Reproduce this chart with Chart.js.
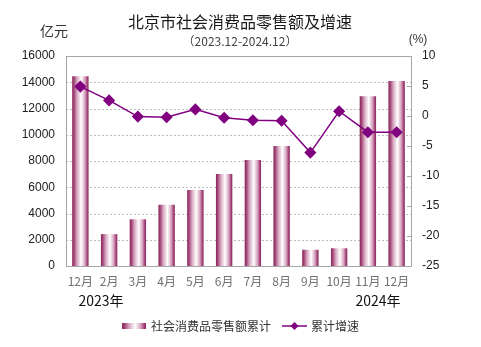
<!DOCTYPE html>
<html>
<head>
<meta charset="utf-8">
<script src="https://cdn.jsdelivr.net/npm/chart.js@4.4.1/dist/chart.umd.min.js"></script>
<style>
  html, body { margin: 0; padding: 0; background: #fff; }
  #wrap { width: 481px; height: 347px; }
</style>
</head>
<body>
<div id="wrap"><canvas id="retailChart"></canvas></div>
<script>
// dati
const months = ['12月', '2月', '3月', '4月', '5月', '6月', '7月', '8月', '9月', '10月', '11月', '12月']
const salesTotal = [14463, 2430, 3560, 4670, 5790, 7010, 8080, 9140, 1240, 1350, 12930, 14100]
const growthRate = [4.9, 2.6, -0.1, -0.2, 1.1, -0.3, -0.7, -0.8, -6.1, 0.8, -2.7, -2.7]
const yearLabels = ['2023年', '2024年']
const seriesNames = ['社会消费品零售额累计', '累计增速']

const CJK = '"Noto Sans CJK SC", "Noto Sans", sans-serif'
const NUM = '"Liberation Sans", Arial, sans-serif'
const LINE_COLOR = '#800080'

const makeBarGradient = function (ctx, x0, x1) {
  const g = ctx.createLinearGradient(x0, 0, x1, 0)
  g.addColorStop(0, '#8a2358')
  g.addColorStop(0.12, '#a54a7c')
  g.addColorStop(0.3, '#d9a9c2')
  g.addColorStop(0.55, '#ffffff')
  g.addColorStop(0.78, '#d7a3bf')
  g.addColorStop(0.92, '#a3457a')
  g.addColorStop(1, '#8a2358')
  return g
}

const barFill = function (context) {
  const chart = context.chart
  const area = chart.chartArea
  if (!area || context.type !== 'data' || !chart.scales.x) return '#a54a7c'
  const w = (area.width / months.length) * 0.57
  const cx = chart.scales.x.getPixelForValue(context.dataIndex)
  return makeBarGradient(chart.ctx, cx - w / 2, cx + w / 2)
}

// griglia tratteggiata sotto le barre
const dottedGrid = {
  id: 'dottedGrid',
  beforeDatasetsDraw(chart) {
    const ctx = chart.ctx
    const a = chart.chartArea
    const ys = chart.scales.y
    ctx.save()
    ctx.strokeStyle = '#bdbdbd'
    ctx.lineWidth = 1
    ctx.setLineDash([2, 2])
    ys.ticks.forEach((t) => {
      const py = Math.round(ys.getPixelForValue(t.value)) + 0.5
      ctx.beginPath()
      ctx.moveTo(a.left, py)
      ctx.lineTo(a.right, py)
      ctx.stroke()
    })
    ctx.restore()
  },
}

// testi extra, cornice e legenda
const extras = {
  id: 'extras',
  afterDraw(chart) {
    const ctx = chart.ctx
    const a = chart.chartArea
    ctx.save()

    // cornice
    ctx.strokeStyle = '#a6a6a6'
    ctx.lineWidth = 1
    ctx.strokeRect(Math.round(a.left) + 0.5, Math.round(a.top) + 0.5, Math.round(a.width), Math.round(a.height))

    // tacche interne asse destro
    const y1 = chart.scales.y1
    y1.ticks.forEach((t) => {
      const py = Math.round(y1.getPixelForValue(t.value)) + 0.5
      ctx.beginPath()
      ctx.moveTo(a.right - 4, py)
      ctx.lineTo(a.right, py)
      ctx.stroke()
    })

    // titolo
    ctx.fillStyle = '#1a1a1a'
    ctx.textAlign = 'center'
    ctx.textBaseline = 'middle'
    ctx.font = '16px ' + CJK
    ctx.fillText('北京市社会消费品零售额及增速', 240, 22)
    ctx.fillStyle = '#444'
    ctx.font = '12px ' + CJK
    ctx.fillText('（2023.12-2024.12）', 240, 41)

    // unità
    ctx.fillStyle = '#333'
    ctx.font = '14px ' + CJK
    ctx.fillText('亿元', 54, 31)
    ctx.font = '12px ' + NUM
    ctx.fillText('(%)', 418, 40)

    // anni
    ctx.fillStyle = '#111'
    ctx.font = '14px ' + CJK
    ctx.fillText(yearLabels[0], 101, 301)
    ctx.fillText(yearLabels[1], 378, 301)

    // legenda
    ctx.fillStyle = makeBarGradient(ctx, 122, 146)
    ctx.fillRect(122, 323, 24, 6)
    ctx.fillStyle = '#333'
    ctx.font = '12px ' + CJK
    ctx.textAlign = 'left'
    ctx.fillText(seriesNames[0], 151, 326)

    ctx.strokeStyle = LINE_COLOR
    ctx.lineWidth = 1.5
    ctx.beginPath()
    ctx.moveTo(282, 326)
    ctx.lineTo(307, 326)
    ctx.stroke()
    ctx.fillStyle = LINE_COLOR
    ctx.beginPath()
    ctx.moveTo(294.5, 322)
    ctx.lineTo(298.5, 326)
    ctx.lineTo(294.5, 330)
    ctx.lineTo(290.5, 326)
    ctx.closePath()
    ctx.fill()
    ctx.fillStyle = '#333'
    ctx.fillText(seriesNames[1], 311, 326)

    ctx.restore()
  },
}

const ctx = document.getElementById('retailChart').getContext('2d')

const retailChart = new Chart(ctx, {
  data: {
    labels: months,
    datasets: [
      {
        type: 'line',
        label: seriesNames[1],
        data: growthRate,
        yAxisID: 'y1',
        borderColor: LINE_COLOR,
        backgroundColor: LINE_COLOR,
        borderWidth: 1.5,
        pointStyle: 'rectRot',
        pointRadius: 5,
        pointHoverRadius: 5,
        tension: 0,
        order: 0,
      },
      {
        type: 'bar',
        label: seriesNames[0],
        data: salesTotal,
        yAxisID: 'y',
        backgroundColor: barFill,
        borderWidth: 0,
        categoryPercentage: 1,
        barPercentage: 0.57,
        order: 1,
      },
    ],
  },
  options: {
    responsive: true,
    maintainAspectRatio: false,
    animation: false,
    layout: { padding: { top: 56, left: 0, right: 0, bottom: 0 } },
    plugins: {
      legend: { display: false },
      title: { display: false },
      tooltip: { enabled: false },
    },
    scales: {
      x: {
        grid: { display: false, drawTicks: false },
        border: { display: false },
        ticks: {
          color: '#707070',
          padding: 8,
          font: { family: CJK, size: 12 },
          maxRotation: 0,
          autoSkip: false,
        },
        afterFit: (s) => { s.height = 81 },
      },
      y: {
        position: 'left',
        min: 0,
        max: 16000,
        grid: { display: false, drawTicks: false },
        border: { display: false },
        ticks: {
          stepSize: 2000,
          padding: 11,
          color: '#222',
          font: { family: NUM, size: 12 },
          callback: (v) => String(v),
        },
        afterFit: (s) => { s.width = 66 },
      },
      y1: {
        position: 'right',
        min: -25,
        max: 10,
        grid: { drawOnChartArea: false, drawTicks: false },
        border: { display: false },
        ticks: {
          stepSize: 5,
          padding: 11,
          color: '#222',
          font: { family: NUM, size: 12 },
        },
        afterFit: (s) => { s.width = 70 },
      },
    },
  },
  plugins: [dottedGrid, extras],
})
</script>
</body>
</html>
